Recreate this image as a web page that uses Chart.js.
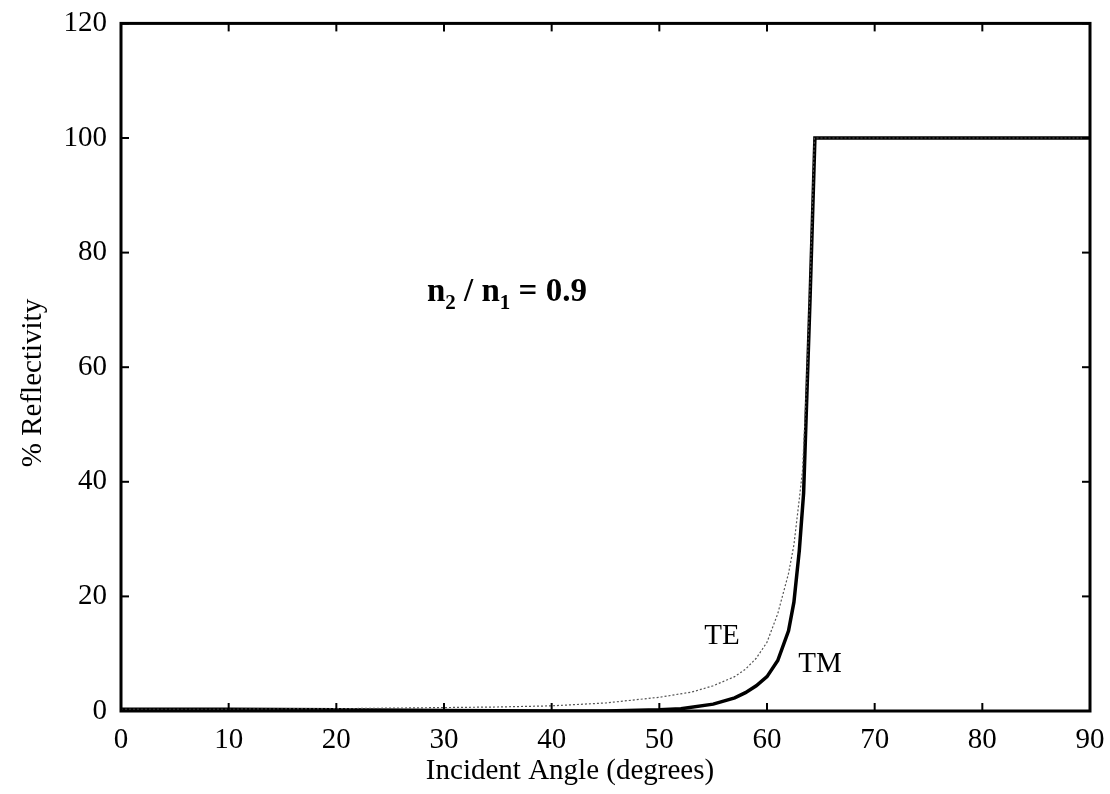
<!DOCTYPE html>
<html>
<head>
    <title>Reflectivity</title>
    <style>
        html, body { margin: 0; padding: 0; background: #fff; }
        #chart { display: block; }
    </style>
    <script src="https://cdn.jsdelivr.net/npm/chart.js"></script>
</head>
<body>
    <canvas id="chart" width="1110" height="794"></canvas>

    <script>
        // Values
        const xTicks = [0, 10, 20, 30, 40, 50, 60, 70, 80, 90];
        const yTicks = [0, 20, 40, 60, 80, 100, 120];

        const teAngle = [0, 10, 20, 30, 35, 40, 45, 50, 53, 55, 57, 58, 59, 60, 61, 62, 62.5, 63, 63.3, 63.7, 64.0, 64.4, 70, 80, 90];
        const teValue = [0.3, 0.3, 0.4, 0.6, 0.7, 0.9, 1.4, 2.4, 3.3, 4.4, 6.0, 7.3, 9.2, 12, 17, 24, 29, 37, 42, 58, 74, 100, 100, 100, 100];

        const tmAngle = [0, 10, 20, 30, 40, 45, 50, 52, 55, 57, 58, 59, 60, 61, 62, 62.5, 63, 63.4, 63.7, 64.0, 64.45, 70, 80, 90];
        const tmValue = [0.3, 0.3, 0.2, 0.1, 0.0, 0.0, 0.2, 0.4, 1.2, 2.3, 3.2, 4.4, 6.0, 8.8, 14, 19, 28, 38, 55, 72, 100, 100, 100, 100];

        const serif = '"Liberation Serif", "DejaVu Serif", serif';

        // Box around the axes with inward ticks on all four sides, plus the texts
        const framePlugin = {
            id: 'frame',
            afterDatasetsDraw(chart) {
                const { ctx, chartArea: a, scales: { x, y } } = chart;
                const line = (x1, y1, x2, y2) => {
                    ctx.beginPath();
                    ctx.moveTo(x1, y1);
                    ctx.lineTo(x2, y2);
                    ctx.stroke();
                };
                ctx.save();
                ctx.strokeStyle = '#000';
                ctx.lineWidth = 2;
                xTicks.forEach(v => {
                    const px = x.getPixelForValue(v);
                    line(px, a.bottom, px, a.bottom - 8);
                    line(px, a.top, px, a.top + 8);
                });
                yTicks.forEach(v => {
                    const py = y.getPixelForValue(v);
                    line(a.left, py, a.left + 8, py);
                    line(a.right, py, a.right - 8, py);
                });
                ctx.lineWidth = 3;
                ctx.strokeRect(a.left, a.top, a.right - a.left, a.bottom - a.top);

                // axis titles
                ctx.fillStyle = '#000';
                ctx.font = '29px ' + serif;
                ctx.textAlign = 'center';
                ctx.textBaseline = 'middle';
                ctx.fillText('Incident Angle (degrees)', 570, 771);
                ctx.save();
                ctx.translate(33, 383);
                ctx.rotate(-Math.PI / 2);
                ctx.fillText('% Reflectivity', 0, 0);
                ctx.restore();

                // curve labels
                ctx.font = '29px ' + serif;
                ctx.fillText('TE', 722, 636);
                ctx.fillText('TM', 820, 664);

                // n2 / n1 = 0.9
                ctx.textAlign = 'left';
                ctx.textBaseline = 'alphabetic';
                const big = 'bold 33px ' + serif;
                const small = 'bold 21px ' + serif;
                let cx = 427;
                const base = 301;
                const put = (t, f, dy) => {
                    ctx.font = f;
                    ctx.fillText(t, cx, base + dy);
                    cx += ctx.measureText(t).width;
                };
                put('n', big, 0);
                put('2', small, 8);
                put(' / n', big, 0);
                put('1', small, 8);
                put(' = 0.9', big, 0);
                ctx.restore();
            }
        };

        new Chart(document.getElementById('chart'), {
            type: 'line',
            data: {
                datasets: [
                    {
                        label: 'TE',
                        data: teAngle.map((a, i) => ({ x: a, y: teValue[i] })),
                        borderColor: '#555',
                        borderWidth: 1.2,
                        borderDash: [2, 2],
                        pointRadius: 0,
                        tension: 0
                    },
                    {
                        label: 'TM',
                        data: tmAngle.map((a, i) => ({ x: a, y: tmValue[i] })),
                        borderColor: '#000',
                        borderWidth: 3.5,
                        pointRadius: 0,
                        tension: 0
                    }
                ]
            },
            options: {
                responsive: false,
                animation: false,
                devicePixelRatio: 1,
                layout: { padding: { left: 0, right: 20, top: 18, bottom: 0 } },
                plugins: {
                    legend: { display: false },
                    tooltip: { enabled: false }
                },
                scales: {
                    x: {
                        type: 'linear',
                        min: 0,
                        max: 90,
                        afterBuildTicks: s => { s.ticks = xTicks.map(v => ({ value: v })); },
                        afterFit: s => { s.height = 83; },
                        grid: { display: false },
                        border: { display: false },
                        ticks: {
                            color: '#000',
                            padding: 4,
                            maxRotation: 0,
                            font: { family: serif, size: 29 }
                        }
                    },
                    y: {
                        min: 0,
                        max: 120,
                        afterBuildTicks: s => { s.ticks = yTicks.map(v => ({ value: v })); },
                        afterFit: s => { s.width = 121; },
                        grid: { display: false },
                        border: { display: false },
                        ticks: {
                            color: '#000',
                            padding: 6,
                            font: { family: serif, size: 29 }
                        }
                    }
                }
            },
            plugins: [framePlugin]
        });
    </script>
</body>
</html>
